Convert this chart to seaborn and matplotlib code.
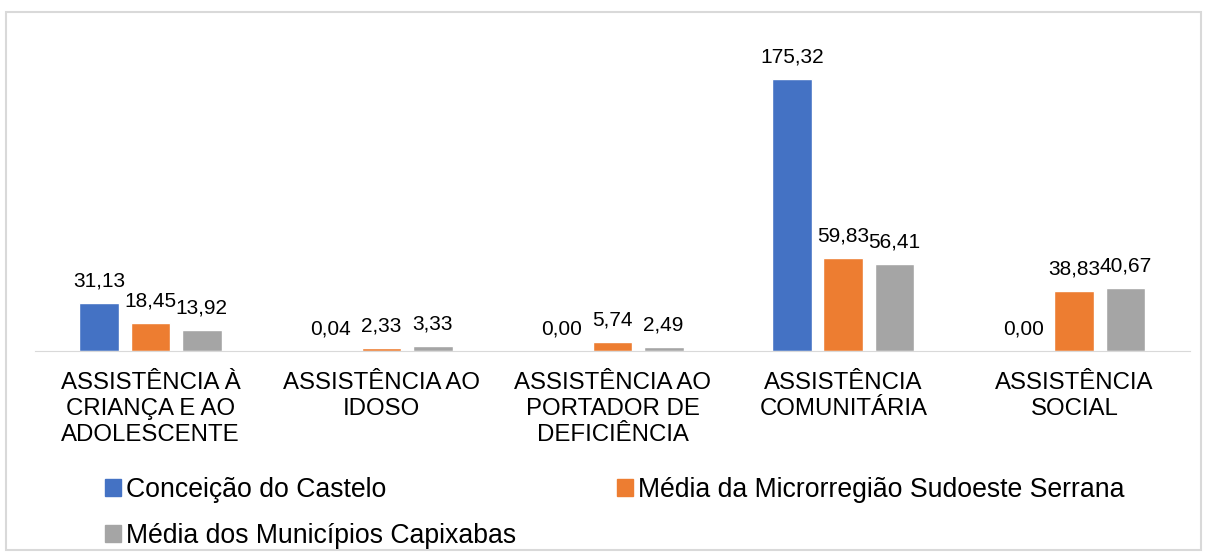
import numpy as np
import pandas as pd
import matplotlib.pyplot as plt
import seaborn as sns
from matplotlib.patches import Rectangle, Patch

sns.set_style("white")
plt.rcParams['font.family'] = ['Liberation Sans', 'DejaVu Sans']

categorias = ["ASSISTÊNCIA À\nCRIANÇA E AO\nADOLESCENTE", "ASSISTÊNCIA AO\nIDOSO",
              "ASSISTÊNCIA AO\nPORTADOR DE\nDEFICIÊNCIA", "ASSISTÊNCIA\nCOMUNITÁRIA",
              "ASSISTÊNCIA\nSOCIAL"]
series = ["Conceição do Castelo", "Média da Microrregião Sudoeste Serrana",
          "Média dos Municípios Capixabas"]
conceicao = [31.13, 0.04, 0.00, 175.32, 0.00]
microrregiao = [18.45, 2.33, 5.74, 59.83, 38.83]
capixabas = [13.92, 3.33, 2.49, 56.41, 40.67]
cores = ["#4472C4", "#ED7D31", "#A5A5A5"]

df = pd.DataFrame({
    "cat": categorias * 3,
    "serie": [series[0]] * 5 + [series[1]] * 5 + [series[2]] * 5,
    "valor": conceicao + microrregiao + capixabas,
})

fig = plt.figure(figsize=(12.08, 5.6), dpi=100)
ax = fig.add_axes([0.029, 0.373, 0.956, 0.554])

sns.barplot(data=df, x="cat", y="valor", hue="serie", palette=cores,
            width=0.664, gap=0.22, ax=ax, legend=False, saturation=1)

for cont in ax.containers:
    labels = [f"{v:.2f}".replace(".", ",") for v in cont.datavalues]
    ax.bar_label(cont, labels=labels, padding=9, fontsize=15, color="#000000")

ax.set_ylim(0, 200)
ax.set_xlim(-0.5, 4.5)
ax.set_xlabel("")
ax.set_ylabel("")
ax.set_yticks([])
ax.tick_params(axis="x", length=0, pad=15, labelsize=17.3, labelcolor="#000000")
for t in ax.get_xticklabels():
    t.set_linespacing(1.24)
for s in ["top", "left", "right"]:
    ax.spines[s].set_visible(False)
ax.spines["bottom"].set_color("#D9D9D9")

# legend: reorder so column 1 has series 0 and 2
handles = [Patch(color=cores[i]) for i in [0, 2, 1]]
names = [series[i] for i in [0, 2, 1]]
fig.legend(handles, names, ncol=2, loc="upper left", bbox_to_anchor=(0.078, 0.167),
           frameon=False, fontsize=19.2, handlelength=0.6, handleheight=0.6,
           handletextpad=0.19, columnspacing=3.8, labelspacing=0.74, borderaxespad=0,
           labelcolor="#000000")

fig.patches.append(Rectangle((0.005, 0.017), 0.989, 0.962, transform=fig.transFigure,
                             fill=False, edgecolor="#D9D9D9", linewidth=1.5))

fig.savefig("out.png", dpi=100, facecolor="white")
